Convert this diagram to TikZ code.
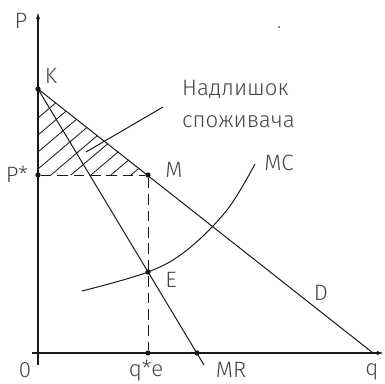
\documentclass[tikz,border=0pt]{standalone}
\usepackage{fontspec}
\setmainfont{Fira Sans}[UprightFont={* Light}]
\usetikzlibrary{arrows.meta}
\definecolor{MonInk}{RGB}{25,25,25}
\definecolor{MonText}{RGB}{70,70,70}
\tikzset{
  mon/axis/.style={-{Latex[length=6pt,width=3.5pt]}, line width=0.9pt, draw=MonInk},
  mon/line/.style={line width=0.85pt, draw=MonInk},
  mon/guide/.style={line width=0.85pt, draw=MonInk, dash pattern=on 9pt off 5pt},
  mon/hatch/.style={line width=0.7pt, draw=MonInk},
  mon/dot/.style={circle, fill=MonInk, inner sep=0pt, minimum size=4.5pt},
  mon/label/.style={font=\fontsize{19}{22}\selectfont, text=MonText, anchor=base, inner sep=0pt},
  mon/note/.style={font=\fontsize{19}{22}\selectfont, text=MonText, anchor=base west, inner sep=0pt}
}

\begin{document}
\begin{tikzpicture}[x=0.03cm,y=-0.03cm]
  \useasboundingbox (0,0) rectangle (384,384);
  % axes
  \coordinate (xs) at (32,353);
  \coordinate (xe) at (384,353);
  \coordinate (ys) at (38,365);
  \coordinate (ye) at (38,12);
  \draw[mon/axis] (xs) -- (xe);
  \draw[mon/axis] (ys) -- (ye);

  % points
  \node[mon/dot] (K) at (38,89) {};
  \node[mon/dot] (Pst) at (38,175) {};
  \node[mon/dot] (M) at (148,175) {};
  \node[mon/dot] (E) at (148,272) {};
  \node[mon/dot] (qe) at (148,353) {};
  \node[mon/dot] (mr) at (197,353) {};
  \coordinate (dq) at (373,353);
  \coordinate (mrend) at (204,365);
  \node[circle, fill=MonInk, inner sep=0pt, minimum size=1.5pt] (speck) at (279,27) {};

  % consumer surplus
  \begin{scope}
    \clip (K.center) -- (Pst.center) -- (M.center) -- cycle;
    \foreach \c in {118,135,...,254}
      \draw[mon/hatch] (38,\c) -- ++(140,-119);
  \end{scope}

  \draw[mon/guide] (Pst) -- (M);
  \draw[mon/guide] (M) -- (qe);
  \draw[mon/line] (K.center) -- (dq);
  \draw[mon/line] (K.center) -- (mrend);
  \draw[mon/line] plot[smooth, tension=0.6] coordinates {(82,291) (148,272) (187,250) (227,210) (255,164)};

  \coordinate (leadA) at (86,152);
  \coordinate (leadB) at (163,107);
  \draw[mon/line] (leadA) -- (leadB);

  % labels
  \node[mon/label] (lP) at (21,28) {P};
  \node[mon/label] (lK) at (51,83) {K};
  \node[mon/label] (lPst) at (17,182) {P*};
  \node[mon/label] (lM) at (174,177) {M};
  \node[mon/label] (lMC) at (279,170) {MC};
  \node[mon/label] (lE) at (171,287) {E};
  \node[mon/label] (lD) at (321,300) {D};
  \node[mon/label] (lMR) at (231,377) {MR};
  \node[mon/label] (lq) at (372,375) {q};
  \node[mon/label] (lqe) at (146,376) {q*e};
  \node[mon/label] (lO) at (25,377) {0};
  \node[mon/note] (surplus1) at (182,95) {Надлишок};
  \node[mon/note] (surplus2) at (182,127) {споживача};
\end{tikzpicture}
\end{document}
